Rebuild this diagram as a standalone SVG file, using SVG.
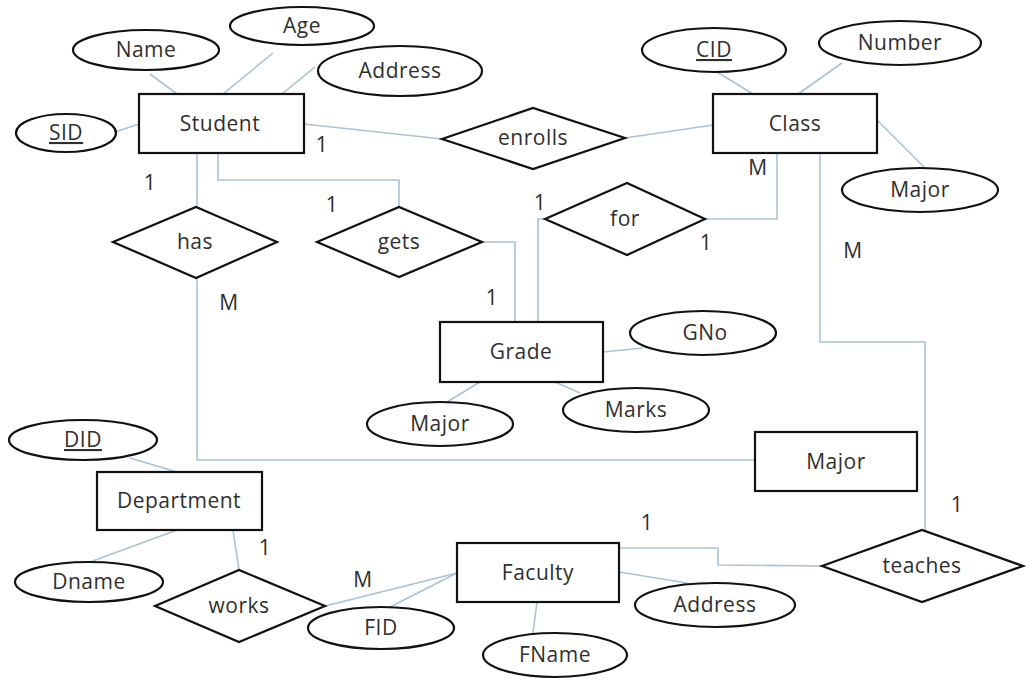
<svg xmlns="http://www.w3.org/2000/svg" width="1029" height="679" viewBox="0 0 1029 679">
<style>
.s{fill:#fff;stroke:#111;stroke-width:2.2}
.c{fill:none;stroke:#a9c2d6;stroke-width:1.6}
text{font-family:"Open Sans","Noto Sans","Liberation Sans",sans-serif;font-size:21px;fill:#2f2f2f;text-anchor:middle;letter-spacing:0.5px}
.u{text-decoration:underline}
</style>
<rect width="1029" height="679" fill="#fff"/>
<g id="connectors">
<line class="c" x1="150" y1="74" x2="177" y2="94"/>
<line class="c" x1="273" y1="53" x2="223" y2="94"/>
<line class="c" x1="315" y1="67" x2="282" y2="94"/>
<line class="c" x1="115" y1="132" x2="139" y2="124"/>
<line class="c" x1="304" y1="124" x2="442" y2="139"/>
<line class="c" x1="625" y1="138" x2="713" y2="125"/>
<line class="c" x1="717" y1="72" x2="753" y2="94"/>
<line class="c" x1="842" y1="63" x2="798" y2="94"/>
<line class="c" x1="877" y1="120" x2="925" y2="168"/>
<polyline class="c" points="197,153 197,207"/>
<polyline class="c" points="218,153 218,180 399,180 399,207"/>
<polyline class="c" points="197,278 197,460 755,460"/>
<polyline class="c" points="482,242 515,242 515,322"/>
<polyline class="c" points="777,153 777,219 705,219"/>
<polyline class="c" points="545,219 538,219 538,322"/>
<polyline class="c" points="820,153 820,342 925,342 925,530"/>
<line class="c" x1="603" y1="352" x2="643" y2="348"/>
<line class="c" x1="555" y1="382" x2="580" y2="393"/>
<line class="c" x1="480" y1="382" x2="447" y2="402"/>
<line class="c" x1="130" y1="458" x2="177" y2="472"/>
<line class="c" x1="177" y1="530" x2="90" y2="562"/>
<line class="c" x1="233" y1="530" x2="239" y2="570"/>
<line class="c" x1="325" y1="606" x2="457" y2="573"/>
<line class="c" x1="457" y1="573" x2="390" y2="607"/>
<line class="c" x1="537" y1="602" x2="533" y2="633"/>
<line class="c" x1="619" y1="572" x2="687" y2="583"/>
<polyline class="c" points="619,548 718,548 718,565 822,566"/>
</g>
<g id="labels">
<text x="322" y="152">1</text>
<text x="150" y="190">1</text>
<text x="332" y="212">1</text>
<text x="758" y="175">M</text>
<text x="540" y="210">1</text>
<text x="706" y="250">1</text>
<text x="853" y="258">M</text>
<text x="229" y="310">M</text>
<text x="492" y="305">1</text>
<text x="265" y="555">1</text>
<text x="363" y="587">M</text>
<text x="647" y="530">1</text>
<text x="957" y="512">1</text>
</g>
<g id="Student"><rect class="s" x="139" y="94" width="165" height="59"/><text x="220" y="131">Student</text></g>
<g id="Name"><ellipse class="s" cx="146" cy="50" rx="73" ry="20"/><text x="146" y="57">Name</text></g>
<g id="Age"><ellipse class="s" cx="302" cy="26" rx="72" ry="19"/><text x="302" y="33">Age</text></g>
<g id="StudentAddress"><ellipse class="s" cx="400" cy="71" rx="82" ry="25"/><text x="400" y="78">Address</text></g>
<g id="SID"><ellipse class="s" cx="66" cy="133" rx="50" ry="19"/><text class="u" x="66" y="140">SID</text></g>
<g id="enrolls"><polygon class="s" points="442,139 533,108 625,138 533,169"/><text x="533" y="145">enrolls</text></g>
<g id="Class"><rect class="s" x="713" y="94" width="164" height="59"/><text x="795" y="131">Class</text></g>
<g id="CID"><ellipse class="s" cx="714" cy="50" rx="72" ry="22"/><text class="u" x="714" y="57">CID</text></g>
<g id="Number"><ellipse class="s" cx="900" cy="43" rx="81" ry="22"/><text x="900" y="50">Number</text></g>
<g id="ClassMajor"><ellipse class="s" cx="920" cy="190" rx="78" ry="22"/><text x="920" y="197">Major</text></g>
<g id="has"><polygon class="s" points="113,242 196,207 277,242 196,278"/><text x="195" y="249">has</text></g>
<g id="gets"><polygon class="s" points="317,242 399,207 482,242 399,277"/><text x="399" y="249">gets</text></g>
<g id="for"><polygon class="s" points="545,219 627,183 705,219 627,255"/><text x="625" y="226">for</text></g>
<g id="Grade"><rect class="s" x="440" y="322" width="163" height="60"/><text x="521" y="359">Grade</text></g>
<g id="GNo"><ellipse class="s" cx="703" cy="333" rx="73" ry="22"/><text x="705" y="340">GNo</text></g>
<g id="Marks"><ellipse class="s" cx="636" cy="410" rx="73" ry="22"/><text x="636" y="417">Marks</text></g>
<g id="GradeMajor"><ellipse class="s" cx="440" cy="424" rx="73" ry="22"/><text x="440" y="431">Major</text></g>
<g id="Major"><rect class="s" x="755" y="432" width="162" height="59"/><text x="836" y="469">Major</text></g>
<g id="DID"><ellipse class="s" cx="83" cy="440" rx="74" ry="20"/><text class="u" x="83" y="447">DID</text></g>
<g id="Department"><rect class="s" x="97" y="472" width="165" height="58"/><text x="179" y="508">Department</text></g>
<g id="Dname"><ellipse class="s" cx="89" cy="582" rx="74" ry="20"/><text x="89" y="589">Dname</text></g>
<g id="works"><polygon class="s" points="155,606 239,570 325,606 239,642"/><text x="239" y="613">works</text></g>
<g id="FID"><ellipse class="s" cx="381" cy="628" rx="73" ry="21"/><text x="381" y="635">FID</text></g>
<g id="Faculty"><rect class="s" x="457" y="543" width="162" height="59"/><text x="538" y="580">Faculty</text></g>
<g id="FName"><ellipse class="s" cx="555" cy="655" rx="72" ry="22"/><text x="555" y="662">FName</text></g>
<g id="FacultyAddress"><ellipse class="s" cx="715" cy="605" rx="80" ry="22"/><text x="715" y="612">Address</text></g>
<g id="teaches"><polygon class="s" points="822,566 922,530 1023,566 922,602"/><text x="922" y="573">teaches</text></g>
</svg>
